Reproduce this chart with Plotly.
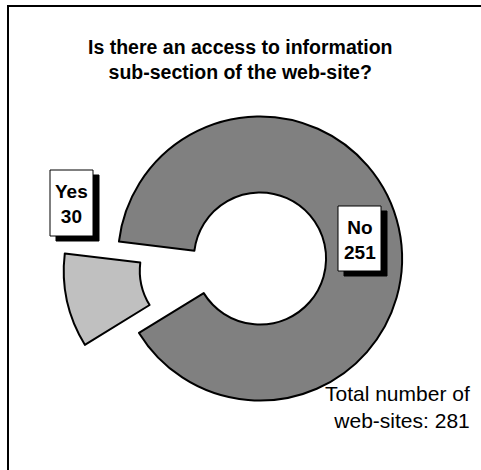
import plotly.graph_objects as go

# Survey answers
answers = ["Yes", "No"]
site_counts = [30, 251]
slice_colors = ["#c0c0c0", "#808080"]
total_sites = sum(site_counts)

W, H = 481, 470


def px_x(x):
    return x / W


def px_y(y):
    return 1 - y / H


fig = go.Figure(
    go.Pie(
        labels=answers,
        values=site_counts,
        sort=False,
        direction="clockwise",
        rotation=-121.6,
        hole=0.465,
        pull=[0.39, 0],
        marker=dict(colors=slice_colors, line=dict(color="black", width=2)),
        textinfo="none",
        hoverinfo="label+value",
        domain=dict(x=[px_x(62.5), px_x(457.5)], y=[px_y(456), px_y(61)]),
    )
)

font_family = "Liberation Sans, Arial, sans-serif"

# Boxed value labels with a solid drop shadow (box corners in pixels)
label_boxes = {"Yes": (50, 170, 93, 236), "No": (338, 206, 381, 271)}
shadow_dx, shadow_dy = 6, 5
for name, count in zip(answers, site_counts):
    x0, y0, x1, y1 = label_boxes[name]
    fig.add_shape(
        type="rect", xref="paper", yref="paper",
        x0=px_x(x0 + shadow_dx), x1=px_x(x1 + shadow_dx),
        y0=px_y(y1 + shadow_dy), y1=px_y(y0 + shadow_dy),
        line=dict(color="black", width=1), fillcolor="black",
    )
    fig.add_shape(
        type="rect", xref="paper", yref="paper",
        x0=px_x(x0), x1=px_x(x1), y0=px_y(y1), y1=px_y(y0),
        line=dict(color="black", width=1), fillcolor="white",
    )
    fig.add_annotation(
        x=px_x((x0 + x1) / 2), y=px_y((y0 + y1) / 2 + 1),
        xref="paper", yref="paper", xanchor="center", yanchor="middle",
        text=f"<b>{name}<br>{count}</b>", showarrow=False, align="center",
        font=dict(family=font_family, size=19, color="black"),
    )

# Title
fig.add_annotation(
    x=px_x(240), y=px_y(59), xref="paper", yref="paper",
    xanchor="center", yanchor="middle",
    text="<b>Is there an access to information<br>sub-section of the web-site?</b>",
    showarrow=False, align="center",
    font=dict(family=font_family, size=19.5, color="black"),
)

# Total note
fig.add_annotation(
    x=px_x(472), y=px_y(407), xref="paper", yref="paper",
    xanchor="right", yanchor="middle",
    text=f"Total number of<br>web-sites: {total_sites}",
    showarrow=False, align="right",
    font=dict(family=font_family, size=21, color="black"),
)

# Outer frame
fig.add_shape(
    type="rect", xref="paper", yref="paper",
    x0=px_x(8), x1=1.05, y0=-0.05, y1=px_y(6),
    line=dict(color="black", width=2), fillcolor="rgba(0,0,0,0)",
)

fig.update_layout(
    width=W, height=H,
    margin=dict(l=0, r=0, t=0, b=0),
    paper_bgcolor="white", plot_bgcolor="white",
    showlegend=False,
)

fig.write_html("out.html")
